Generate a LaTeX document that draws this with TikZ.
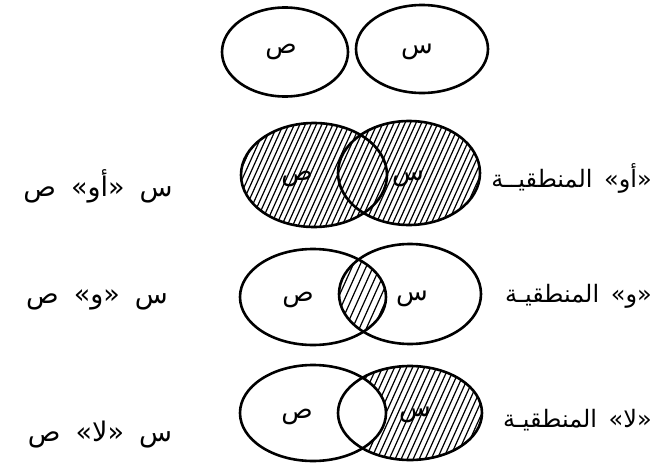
\documentclass[tikz,border=0pt]{standalone}
\usepackage{fontspec}
\newfontfamily\arabicfont[Script=Arabic]{DejaVu Sans}
\TeXXeTstate=1
\newcommand{\hatchlines}[3]{\foreach \i [evaluate=\i as \k using \i*#3] in {-34,...,34} \draw[hatchline] (#1+\k-28,#2+62) -- (#1+\k+28,#2-62);}
\newcommand{\gap}{\hspace{15pt}}
\begin{document}
\begin{tikzpicture}[x=1pt,y=-1pt,
  outline/.style={line width=2.6pt},
  hatchline/.style={line width=1.2pt},
  lbl/.style={font=\arabicfont\fontsize{26}{30}\selectfont, inner sep=0pt},
  side/.style={font=\arabicfont\fontsize{27}{32}\selectfont, inner sep=0pt},
  rside/.style={font=\arabicfont\fontsize{24}{28}\selectfont, inner sep=0pt, anchor=east}]
\useasboundingbox (0,0) rectangle (654,463);
% ---------- row 1 ----------
\draw[outline] (285,52) ellipse [x radius=63, y radius=44.5];
\draw[outline] (422,49) ellipse [x radius=66, y radius=44];
\node[lbl] (y1) at (281,52) {\beginR ص\endR};
\node[lbl] (x1) at (417,52) {\beginR س\endR};
% ---------- row 2 : OR ----------
\begin{scope}
  \clip (314,175) ellipse [x radius=73, y radius=52] (409,173) ellipse [x radius=71, y radius=52];
  \hatchlines{360}{174}{5.5}
\end{scope}
\draw[outline] (314,175) ellipse [x radius=73, y radius=52];
\draw[outline] (409,173) ellipse [x radius=71, y radius=52];
\node[lbl] (y2) at (297,179) {\beginR ص\endR};
\node[lbl] (x2) at (408,179) {\beginR س\endR};
\node[side] (t2) at (98,186) {\beginR س\gap«أو»\gap ص\endR};
\node[rside] (r2) at (652,178) {\beginR «أو»\hspace{4pt} المنطقيــة\endR};
% ---------- row 3 : AND ----------
\begin{scope}
  \clip (313,297) ellipse [x radius=73, y radius=48];
  \clip (410,294) ellipse [x radius=71, y radius=50];
  \hatchlines{360}{296}{7}
\end{scope}
\draw[outline] (313,297) ellipse [x radius=73, y radius=48];
\draw[outline] (410,294) ellipse [x radius=71, y radius=50];
\node[lbl] (y3) at (298,300) {\beginR ص\endR};
\node[lbl] (x3) at (412,299) {\beginR س\endR};
\node[side] (t3) at (97,300) {\beginR س\gap«و»\gap ص\endR};
\node[rside] (r3) at (652,296) {\beginR «و»\hspace{4pt} المنطقيـة\endR};
% ---------- row 4 : NOT ----------
\begin{scope}
  \clip (410,413) ellipse [x radius=72, y radius=47];
  \begin{scope}[even odd rule]
    \clip (0,0) rectangle (654,463) (313,413) ellipse [x radius=73, y radius=48];
    \hatchlines{410}{413}{6}
  \end{scope}
\end{scope}
\draw[outline] (313,413) ellipse [x radius=73, y radius=48];
\draw[outline] (410,413) ellipse [x radius=72, y radius=47];
\node[lbl] (y4) at (297,417) {\beginR ص\endR};
\node[lbl] (x4) at (415,415) {\beginR س\endR};
\node[side] (t4) at (100,435) {\beginR س\gap«لا»\gap ص\endR};
\node[rside] (r4) at (652,420) {\beginR «لا»\hspace{4pt} المنطقيـة\endR};
\end{tikzpicture}
\end{document}
